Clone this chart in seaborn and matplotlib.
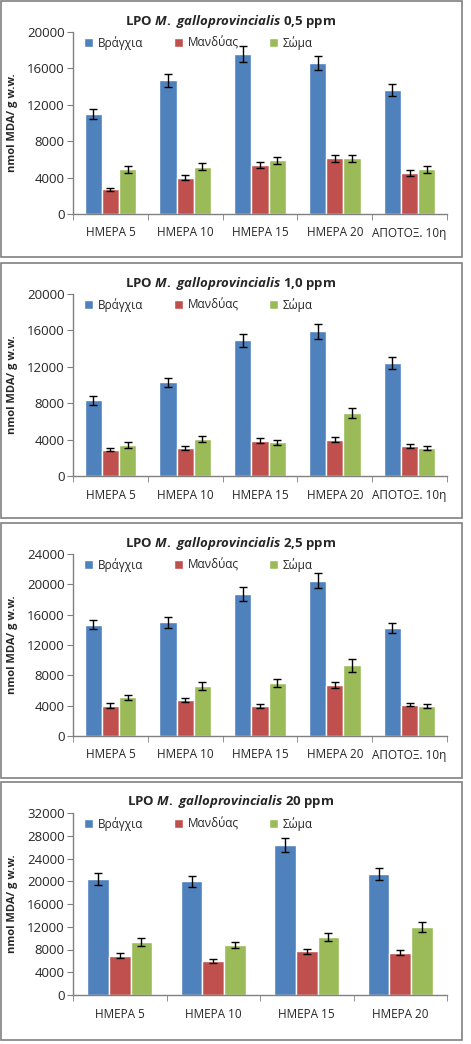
import numpy as np
import pandas as pd
import matplotlib.pyplot as plt
import seaborn as sns
from matplotlib.patches import Rectangle

# categories
days5 = ["ΗΜΕΡΑ 5", "ΗΜΕΡΑ 10", "ΗΜΕΡΑ 15", "ΗΜΕΡΑ 20", "ΑΠΟΤΟΞ. 10η"]
days4 = ["ΗΜΕΡΑ 5", "ΗΜΕΡΑ 10", "ΗΜΕΡΑ 15", "ΗΜΕΡΑ 20"]
tissues = ["Βράγχια", "Μανδύας", "Σώμα"]
doses = ["0,5", "1,0", "2,5", "20"]

# 0,5 ppm
gill_05 = [11000, 14700, 17600, 16600, 13600]
mantle_05 = [2700, 4000, 5400, 6100, 4500]
body_05 = [4900, 5200, 5900, 6100, 4900]
gill_05_err = [550, 700, 850, 800, 650]
mantle_05_err = [150, 250, 300, 400, 300]
body_05_err = [400, 400, 400, 400, 350]

# 1,0 ppm
gill_10 = [8300, 10300, 14900, 15900, 12400]
mantle_10 = [2900, 3100, 3900, 4000, 3300]
body_10 = [3400, 4100, 3700, 6900, 3100]
gill_10_err = [450, 500, 700, 800, 650]
mantle_10_err = [200, 200, 300, 250, 200]
body_10_err = [300, 350, 250, 550, 250]

# 2,5 ppm
gill_25 = [14700, 15000, 18700, 20500, 14200]
mantle_25 = [4000, 4700, 4000, 6700, 4150]
body_25 = [5100, 6600, 7000, 9300, 4000]
gill_25_err = [650, 750, 900, 950, 650]
mantle_25_err = [300, 250, 250, 400, 250]
body_25_err = [350, 500, 500, 800, 250]

# 20 ppm
gill_20 = [20400, 20000, 26400, 21300]
mantle_20 = [6900, 6000, 7700, 7400]
body_20 = [9300, 8800, 10200, 12000]
gill_20_err = [1000, 1000, 1200, 1000]
mantle_20_err = [400, 400, 450, 450]
body_20_err = [700, 600, 650, 900]

y_max = [20000, 20000, 24000, 32000]

panels = [
    (days5, [gill_05, mantle_05, body_05], [gill_05_err, mantle_05_err, body_05_err]),
    (days5, [gill_10, mantle_10, body_10], [gill_10_err, mantle_10_err, body_10_err]),
    (days5, [gill_25, mantle_25, body_25], [gill_25_err, mantle_25_err, body_25_err]),
    (days4, [gill_20, mantle_20, body_20], [gill_20_err, mantle_20_err, body_20_err]),
]

sns.set_style("white")
plt.rcParams["font.family"] = ["Open Sans", "DejaVu Sans"]
plt.rcParams["mathtext.fontset"] = "custom"
plt.rcParams["mathtext.it"] = "Open Sans:italic:bold"
plt.rcParams["mathtext.rm"] = "Open Sans:bold"

palette = {"Βράγχια": "#4F81BD", "Μανδύας": "#C0504D", "Σώμα": "#9BBB59"}

W, H = 471, 1044
fig = plt.figure(figsize=(W / 100, H / 100), dpi=100)

panel_tops = [1, 263, 523, 782]
panel_bottoms = [257, 518, 778, 1040]

for i, (days, series, errs) in enumerate(panels):
    top = panel_tops[i]
    fig.add_artist(Rectangle((1 / W, 1 - panel_bottoms[i] / H), 461 / W,
                             (panel_bottoms[i] - top) / H, transform=fig.transFigure,
                             fill=False, edgecolor="#808080", lw=1.2))

    ax_top = top + 31
    ax_bot = top + 213
    ax = fig.add_axes([73 / W, 1 - ax_bot / H, 374 / W, (ax_bot - ax_top) / H])

    df = pd.DataFrame({
        "day": np.tile(days, 3),
        "tissue": np.repeat(tissues, len(days)),
        "value": np.concatenate(series),
    })
    sns.barplot(data=df, x="day", y="value", hue="tissue", palette=palette,
                errorbar=None, width=0.69, saturation=1, ax=ax)

    for cont, err in zip(ax.containers, errs):
        xs = [p.get_x() + p.get_width() / 2 for p in cont.patches]
        hs = [p.get_height() for p in cont.patches]
        ax.errorbar(xs, hs, yerr=err, fmt="none", ecolor="black",
                    elinewidth=1, capsize=3, capthick=1)

    n = len(days)
    ax.set_xlim(-0.5, n - 0.5)
    ax.set_ylim(0, y_max[i])
    ax.set_yticks(np.arange(0, y_max[i] + 1, 4000))
    ax.set_xticks(np.arange(-0.5, n, 1.0), minor=True)
    ax.tick_params(axis="x", which="major", length=0, pad=9, labelsize=8.5)
    ax.tick_params(axis="x", which="minor", length=4, color="#808080", direction="out")
    ax.tick_params(axis="y", length=4, color="#808080", direction="out",
                   labelsize=9.5, pad=2)
    ax.tick_params(axis="both", bottom=True, left=True, which="both")
    ax.tick_params(axis="x", which="major", bottom=False)
    sns.despine(ax=ax)
    for s in ["left", "bottom"]:
        ax.spines[s].set_color("#808080")
        ax.spines[s].set_linewidth(1)
    ax.set_xlabel("")
    ax.set_ylabel("nmol MDA/ g w.w.", fontweight="bold", fontsize=8, labelpad=4)
    ax.yaxis.set_label_coords(-0.148, 0.5)

    handles, labels = ax.get_legend_handles_labels()
    ax.legend(handles, labels, loc="center left", bbox_to_anchor=(0.03, 0.94),
              ncol=3, frameon=False, fontsize=8.5, handlelength=0.75,
              handleheight=0.75, handletextpad=0.4, columnspacing=2.6,
              borderaxespad=0, borderpad=0)

    fig.text(231 / W, 1 - (top + 20) / H,
             r"LPO $M.\ galloprovincialis$ " + doses[i] + " ppm",
             ha="center", va="center", fontsize=9.5, fontweight="bold")

fig.savefig("out.png", dpi=100)
plt.close(fig)
